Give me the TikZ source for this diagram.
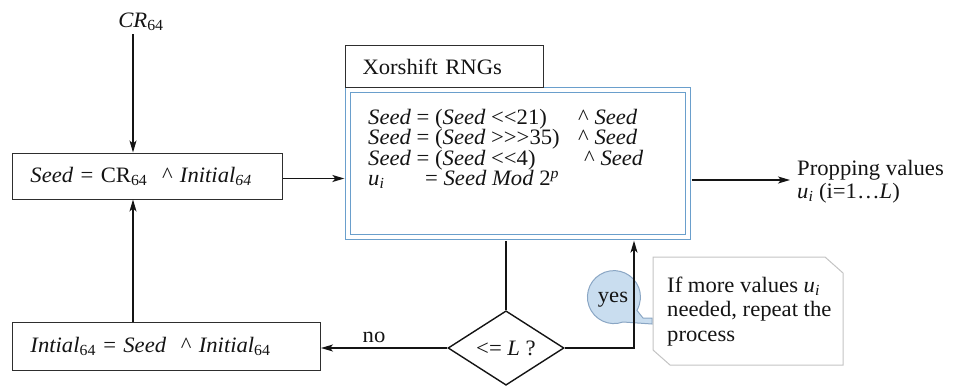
\documentclass[tikz,border=0pt]{standalone}
\usepackage{fontspec}
\setmainfont{Liberation Serif}[FakeStretch=1.03]
\usetikzlibrary{arrows.meta,shapes.geometric}

\definecolor{ink}{HTML}{141414}
\definecolor{frame}{HTML}{2E2E2E}
\definecolor{rngblue}{HTML}{6A9FCC}
\definecolor{bubblefill}{HTML}{C9DDEF}
\definecolor{bubbleline}{HTML}{8AA6C4}
\definecolor{noteline}{HTML}{C4C4C4}

% shift operators without font ligatures
\newcommand\shl{\textless\kern0pt\textless}
\newcommand\shr{>\kern0pt>\kern0pt>}
\newcommand\xo{\textasciicircum}

\begin{document}
\begin{tikzpicture}[x=1pt,y=-1pt,
  every node/.style={font=\fontsize{22}{23}\selectfont, text=ink},
  box/.style={draw=frame, line width=1pt, inner xsep=18pt, inner ysep=0pt,
              align=left, anchor=west},
  conn/.style={draw=ink, line width=1.4pt},
  arr/.style={conn, -{Stealth[length=12pt,width=7pt,inset=3pt]}},
]
\useasboundingbox (0,0) rectangle (969,386);

% left column: seed and feedback boxes
\node (cr) at (141,22) {\textit{CR}\textsubscript{64}};
\coordinate (crfoot) at ([xshift=-8pt]cr.south);
\node[box, text width=234pt, minimum height=46pt] (s1) at (12,176)
  {\textit{Seed} = CR\textsubscript{64}\ \ \xo\ \textit{Initial}\textsubscript{\textit{64}}};
\node[box, text width=272pt, minimum height=48pt] (s2) at (12,346)
  {\textit{Intial}\textsubscript{64} = \textit{Seed} \ \xo\ \textit{Initial}\textsubscript{64}};

% generator block
\node[draw=rngblue, line width=1.3pt, double=white, double distance=3.2pt,
      fill=white, minimum width=340pt, minimum height=147pt, inner sep=0pt]
      (main) at (518,163.5) {};
\node[draw=frame, line width=1pt, fill=white, anchor=north west,
      minimum height=42pt, text width=164pt, inner xsep=17pt, inner ysep=0pt,
      align=left] (lbl) at (345,45) {Xorshift RNGs};
\node[anchor=base west, inner sep=0pt, font=\fontsize{22}{17.5}\selectfont]
  (eqs) at (368,124) {\begin{tabular}[t]{@{}l@{}}
  \makebox[210pt][l]{\textit{Seed} = (\textit{Seed} \shl21)}\xo\ \textit{Seed}\\
  \makebox[210pt][l]{\textit{Seed} = (\textit{Seed} \shr35)}\xo\ \textit{Seed}\\
  \makebox[216pt][l]{\textit{Seed} = (\textit{Seed} \shl4)}\xo\ \textit{Seed}\\
  \makebox[57pt][l]{\textit{u}\textsubscript{\textit{i}}}= \textit{Seed Mod} 2\textsuperscript{\textit{p}}
  \end{tabular}};

% decision
\node[diamond, draw=ink, line width=1.4pt, minimum width=116pt,
      minimum height=73pt, inner sep=0pt] (d) at (506,348)
      {\textless= \textit{L} ?};

% callout bubble and note
\filldraw[fill=bubblefill, draw=bubbleline, line width=1pt]
  (623,322) arc[start angle=70, end angle=390, radius=26.5]
  -- (643,318) -- (652,318) -- (652,324) -- cycle;
\node (yes) at (613,300) {yes};
\draw[draw=noteline, fill=white, line width=1pt]
  (653,257) -- (825,257) -- (843,273) -- (843,365) -- (670,365) -- (653,350) -- cycle;
\node[anchor=base west, inner sep=0pt, font=\fontsize{22}{24.5}\selectfont]
  (note) at (667,292) {\begin{tabular}[t]{@{}l@{}}
  If more values \textit{u}\textsubscript{\textit{i}}\\
  needed, repeat the\\
  process\end{tabular}};

% output label
\node[anchor=base west, inner sep=0pt] (out) at (797,175.5)
  {\begin{tabular}[t]{@{}l@{}}
  Propping values\\
  \textit{u}\textsubscript{\textit{i}} (i=1\dots\textit{L})\end{tabular}};
\coordinate (outtip) at (790,180);
\coordinate (yesin) at (634,0);

% connectors
\draw[arr] (crfoot) -- (crfoot |- s1.north);
\draw[arr] (s2.north -| crfoot) -- (s1.south -| crfoot);
\draw[arr, shorten >=3pt] ([yshift=-2.5pt]s1.east) -- ([yshift=-2.5pt]s1.east -| main.west);
\draw[arr, shorten <=3pt] (outtip -| main.east) -- (outtip);
\draw[conn, shorten >=3pt] (d.north) -- (d.north |- main.south);
\draw[arr, shorten >=3pt] (d.east) -| (yesin |- main.south);
\draw[arr] (d.west) -- (d.west -| s2.east);
\node (nolbl) at (374,337) {no};
\end{tikzpicture}
\end{document}
